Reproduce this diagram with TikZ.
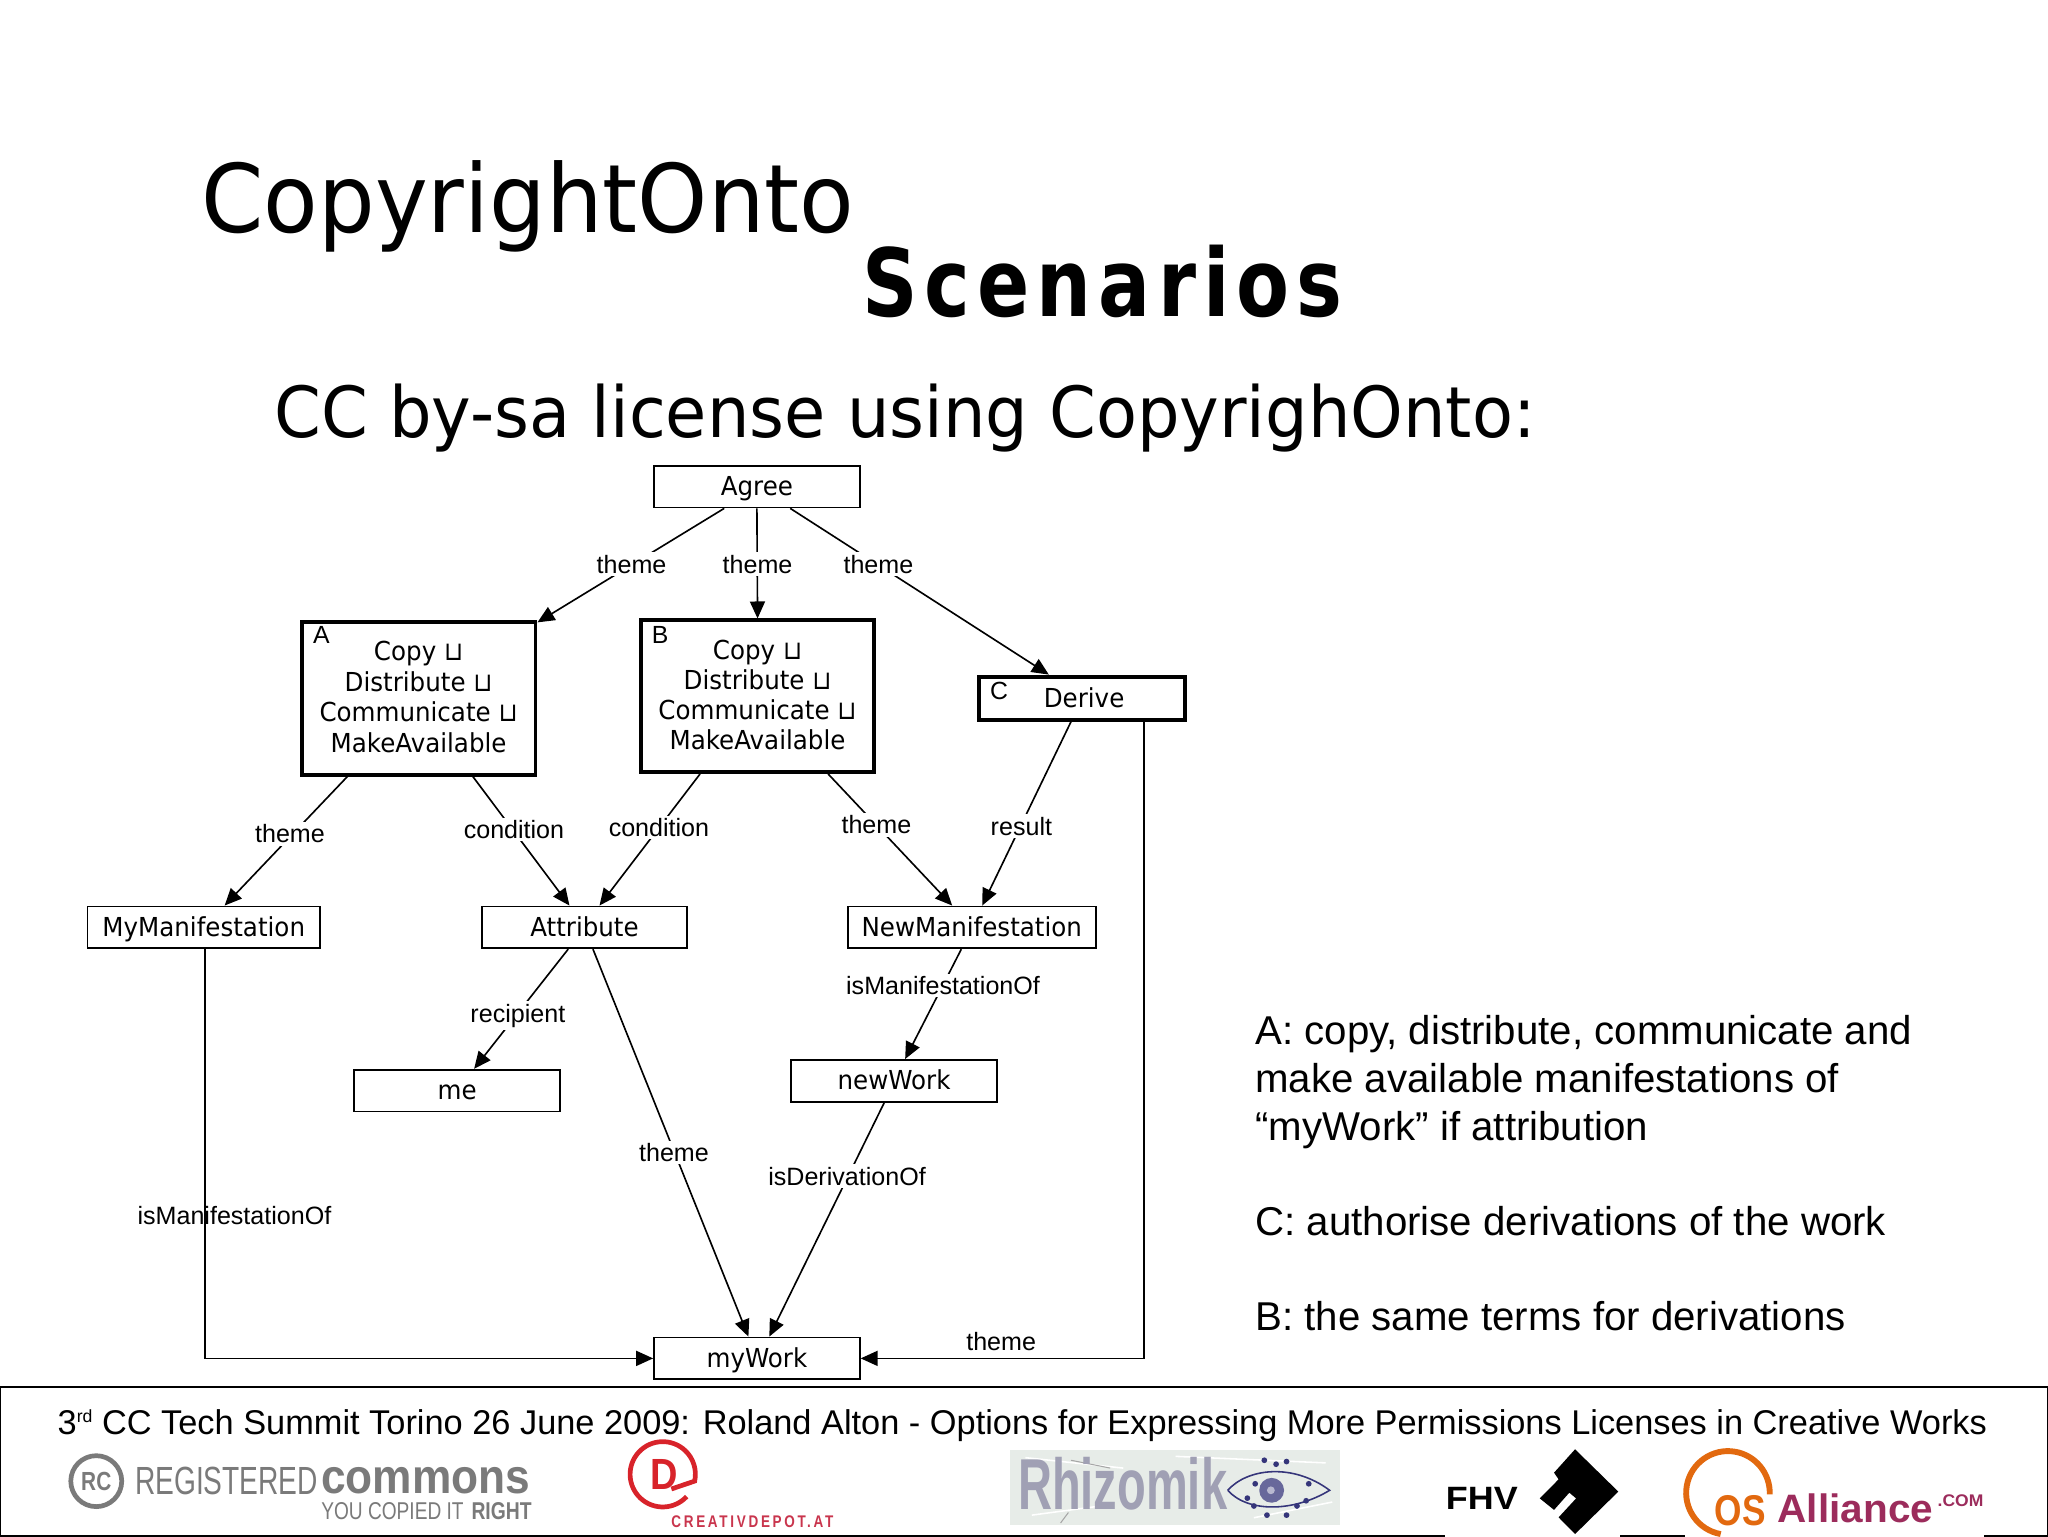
\documentclass[tikz,border=0pt]{standalone}
\usepackage{fontspec}
\usepackage{graphicx}
\usetikzlibrary{arrows.meta}
\setmainfont{Liberation Sans}
\newfontfamily\lucida[FakeStretch=0.94]{DejaVu Sans}
\newfontfamily\lucidat[FakeStretch=0.943]{DejaVu Sans}
\newfontfamily\lucidab[FakeStretch=0.82,LetterSpace=7.5]{DejaVu Sans Bold}
\newfontfamily\lucidas[FakeStretch=0.95]{DejaVu Sans}
\newfontfamily\helvsp[LetterSpace=20]{Liberation Sans Bold}
\newcommand{\fitbox}[3]{\resizebox{#1pt}{#2pt}{#3}}
\newcommand{\lastline}{\rule[-2pt]{0pt}{2pt}}
\definecolor{rcgray}{HTML}{7A7A7A}
\definecolor{cdred}{HTML}{D8232A}
\definecolor{cdtext}{HTML}{C9354D}
\definecolor{rhbg}{HTML}{E7ECE8}
\definecolor{rhtext}{HTML}{A0A0B4}
\definecolor{rheye}{HTML}{35357A}
\definecolor{osorange}{HTML}{E2690F}
\definecolor{oscrimson}{HTML}{9C2C5C}
\tikzset{
  boxbase/.style={draw=black,inner sep=0pt,fill=white,font=\lucida\fontsize{20}{23.4}\selectfont,align=center},
  cls/.style={boxbase,line width=1.4pt,minimum width=#1,minimum height=32pt,text height=14pt,text depth=0pt},
  cls/.default=157.5pt,
  grp/.style={boxbase,line width=3pt,minimum width=#1},
  arr/.style={line width=1.25pt,-{Triangle[length=13pt,width=11.5pt]}},
  lab/.style={font=\fontsize{19.2}{24}\selectfont,fill=white,inner sep=2pt},
  plainlab/.style={font=\fontsize{19.2}{24}\selectfont,inner sep=0pt},
  corner/.style={font=\fontsize{19}{22}\selectfont,inner sep=0pt},
  side/.style={anchor=base west,inner sep=0pt,font=\fontsize{30.8}{36}\selectfont},
  logo/.style={inner sep=0pt,anchor=center}
}
\begin{document}
\begin{tikzpicture}[x=1pt,y=-1pt]
\useasboundingbox (0,0) rectangle (1568,1176);
\fill[white] (0,0) rectangle (1568,1176);
% titles
\node[anchor=base west,inner sep=0pt,font=\lucidat\fontsize{72.5}{80}\selectfont] (title1) at (154,178) {CopyrightOnto};
\node[anchor=base west,inner sep=0pt,font=\lucidab\fontsize{72}{80}\selectfont] (title2) at (660,242) {Scenarios};
\node[anchor=base west,inner sep=0pt,font=\lucidas\fontsize{54}{60}\selectfont] (subtitle) at (210,335) {CC by-sa license using CopyrighOnto:};
% classes
\node[cls] (agree) at (579.5,372.5) {Agree};
\node[grp=179pt,minimum height=117pt] (A) at (320.5,534.5) {Copy ⊔\\Distribute ⊔\\Communicate ⊔\\MakeAvailable\lastline};
\node[grp=178pt,minimum height=116pt,font=\lucida\fontsize{20}{23}\selectfont] (B) at (580,533) {Copy ⊔\\Distribute ⊔\\Communicate ⊔\\MakeAvailable\lastline};
\node[grp=157.5pt,minimum height=33pt,text height=14pt,text depth=0pt] (derive) at (828.5,534.5) {\hspace*{3pt}Derive};
\node[cls=178pt] (myman) at (156,710) {MyManifestation};
\node[cls] (attr) at (447.5,710) {Attribute};
\node[cls=190pt] (newman) at (744,710) {NewManifestation};
\node[cls] (me) at (350,835) {me};
\node[cls] (newwork) at (684.5,827.5) {newWork};
\node[cls] (mywork) at (579.5,1040) {myWork};
\node[corner] (la) at (246,486) {A};
\node[corner] (lb) at (505.5,486) {B};
\node[corner] (lc) at (765,529) {C};
% connectors
\draw[arr] ([xshift=-25pt]agree.south) -- ([xshift=0pt,yshift=-2pt]A.north east);
\draw[arr] (agree.south) -- (B.north);
\draw[arr] ([xshift=25.5pt]agree.south) -- ([xshift=-25.5pt]derive.north);
\draw[arr] ([xshift=-54.5pt]A.south) -- ([xshift=16pt]myman.north);
\draw[arr] ([xshift=41.5pt]A.south) -- ([xshift=-11.5pt]attr.north);
\draw[arr] ([xshift=-44pt]B.south) -- ([xshift=11.5pt]attr.north);
\draw[arr] ([xshift=54pt]B.south) -- ([xshift=-15pt]newman.north);
\draw[arr] ([xshift=-8.5pt]derive.south) -- ([xshift=8pt]newman.north);
\draw[arr] ([xshift=47.5pt]derive.south) |- (mywork.east);
\draw[arr] ([xshift=1pt]myman.south) |- (mywork.west);
\draw[arr] ([xshift=-12.5pt]attr.south) -- ([xshift=13pt]me.north);
\draw[arr] ([xshift=6.5pt]attr.south) -- ([xshift=-6.5pt]mywork.north);
\draw[arr] ([xshift=-8pt]newman.south) -- ([xshift=8.5pt]newwork.north);
\draw[arr] ([xshift=-7.5pt]newwork.south) -- ([xshift=9.5pt]mywork.north);
% connector labels
\node[lab] (l1) at (483.5,432) {theme};
\node[lab] (l2) at (580,432) {theme};
\node[lab] (l3) at (672.5,432) {theme};
\node[lab] (l4) at (222,638.5) {theme};
\node[lab] (l5) at (393.5,635) {condition};
\node[lab] (l6) at (504.5,633.5) {condition};
\node[lab] (l7) at (671,631.5) {theme};
\node[lab] (l8) at (782,632.5) {result};
\node[lab] (l9) at (396.5,777.5) {recipient};
\node[lab] (l10) at (516,882.5) {theme};
\node[lab] (l11) at (722,754.5) {isManifestationOf};
\node[lab] (l12) at (648.5,900.5) {isDerivationOf};
\node[plainlab] (l13) at (179.5,931) {isManifestationOf};
\node[plainlab] (l14) at (766.5,1027) {theme};
% side text
\node[side] (s1) at (961,800) {A: copy, distribute, communicate and};
\node[side] (s2) at (961,836.5) {make available manifestations of};
\node[side] (s3) at (961,873) {“myWork” if attribution};
\node[side] (s4) at (961,946) {C: authorise derivations of the work};
\node[side] (s5) at (961,1019) {B: the same terms for derivations};
% footer
\draw[line width=1.6pt] (0,1062) rectangle (1568,1176);
\fill[white] (1106,1168) rectangle (1240,1177);
\fill[white] (1290,1168) rectangle (1519,1177);
\node[anchor=base west,inner sep=0pt,font=\fontsize{26.3}{30}\selectfont] (foot) at (44,1098) {3\raisebox{9pt}{\fontsize{13.5}{15}\selectfont rd} CC Tech Summit Torino 26 June 2009: Roland Alton - Options for Expressing More Permissions Licenses in Creative Works};
% Registered Commons
\draw[rcgray,line width=3.6pt] (73.7,1134) circle[radius=19.5];
\node[logo,text=rcgray] (rc) at (73.7,1134) {\fitbox{23}{14}{\bfseries RC}};
\node[logo,text=rcgray] (rc1) at (173.5,1134) {\fitbox{140}{21}{REGISTERED}};
\node[logo,text=rcgray] (rc2) at (326,1134) {\fitbox{160}{20}{\bfseries commons}};
\node[logo,text=rcgray] (rc3) at (300.5,1157) {\fitbox{109}{13}{YOU COPIED IT}};
\node[logo,text=rcgray] (rc4) at (384,1157) {\fitbox{46}{13}{\bfseries RIGHT}};
% Creativdepot
\draw[cdred,line width=3.6pt] (525.7,1145.8) arc[start angle=43,end angle=372,radius=25] -- (514,1140);
\node[logo,text=cdred] (cd) at (508.5,1128.5) {\fitbox{21}{23}{\bfseries D}};
\node[logo,text=cdtext] (cd2) at (576,1165) {\fitbox{124}{9}{\helvsp CREATIVDEPOT.AT}};
% Rhizomik
\fill[rhbg] (773,1110) rectangle (1026,1167.5);
\draw[white,line width=1.2pt] (785,1116) -- (860,1124) (900,1115) -- (1015,1120) (790,1160) -- (850,1152) (960,1162) -- (1020,1150);
\draw[gray!70,line width=.8pt] (820,1118) -- (850,1124) (812,1166) -- (818,1158);
\node[logo,text=rhtext] (rh) at (859.5,1136) {\fitbox{160}{40}{\bfseries Rhizomik}};
\draw[rheye,line width=1.2pt] (940,1141) .. controls (955,1124) and (990,1120) .. (1018,1141) .. controls (990,1158) and (955,1158) .. (940,1141);
\fill[rheye!75] (973.6,1141) circle[radius=9.5];
\fill[white!65!rheye] (973,1141) circle[radius=3];
\foreach \px/\py in {961/1136,1002/1136,968/1118,977/1121,985/1119,960/1153,970/1160,985/1160,993/1153,1000/1149,955/1147}
  \fill[rheye] (\px,\py) circle[radius=2.2];
% FHV
\node[logo] (fhv) at (1134.5,1147) {\fitbox{55}{17}{\bfseries FHV}};
\fill[black] (1205.9,1109.6) -- (1239,1142) -- (1205.9,1174.5) -- (1193.3,1161.7) -- (1206.7,1147.2) -- (1201.5,1142.8) -- (1189.8,1156) -- (1178.9,1147.2) -- (1193.3,1132.6) -- (1189.8,1127.5) -- cycle;
% OS Alliance
\begin{scope}
\clip (1280,1100) rectangle (1360,1176);
\draw[osorange,line width=4.5pt] (1317.4,1174.5) arc[start angle=100,end angle=362,radius=32];
\end{scope}
\node[logo,text=osorange] (os) at (1332.5,1156.5) {\fitbox{39}{23}{\bfseries OS}};
\node[logo,text=oscrimson] (osa) at (1420.5,1155) {\fitbox{119}{22}{\bfseries Alliance}};
\node[logo,text=oscrimson] (osb) at (1501,1149) {\fitbox{35}{9}{\bfseries .COM}};
\end{tikzpicture}
\end{document}
